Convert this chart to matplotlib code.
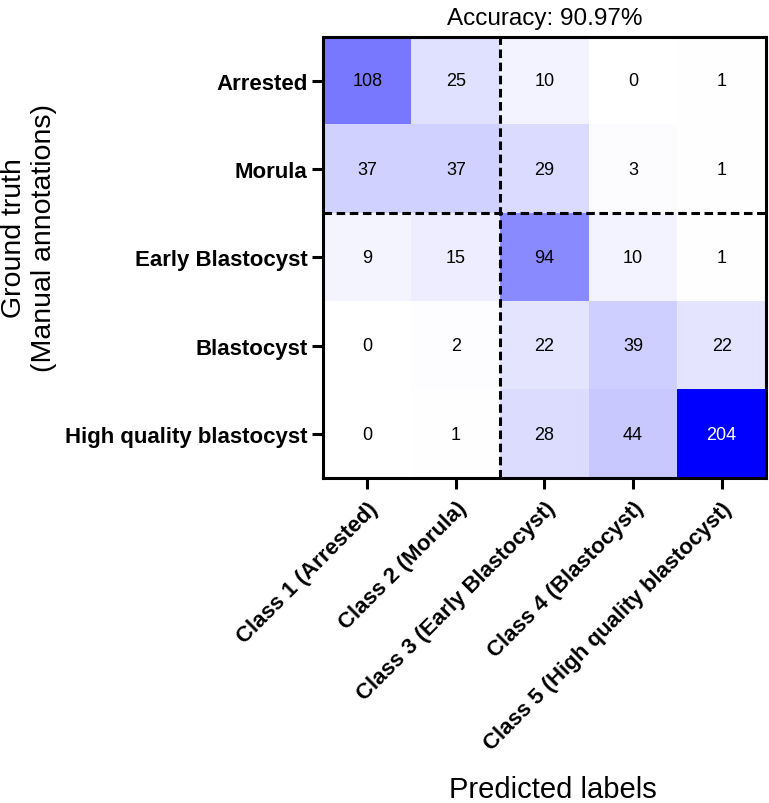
import numpy as np
import matplotlib.pyplot as plt
from matplotlib.colors import LinearSegmentedColormap

plt.rcParams['font.family'] = ['Liberation Sans', 'DejaVu Sans']

true_labels = ['Arrested', 'Morula', 'Early Blastocyst', 'Blastocyst', 'High quality blastocyst']
pred_labels = ['Class 1 (Arrested)', 'Class 2 (Morula)', 'Class 3 (Early Blastocyst)',
               'Class 4 (Blastocyst)', 'Class 5 (High quality blastocyst)']
counts = np.array([
    [108, 25, 10, 0, 1],
    [37, 37, 29, 3, 1],
    [9, 15, 94, 10, 1],
    [0, 2, 22, 39, 22],
    [0, 1, 28, 44, 204],
])
accuracy = 90.97

cmap = LinearSegmentedColormap.from_list('wb', ['#ffffff', '#0000ff'])

fig = plt.figure(figsize=(7.69, 8.04), dpi=100)
ax = fig.add_axes([0.42, 0.404, 0.576, 0.549])
ax.imshow(counts, cmap=cmap, vmin=0, vmax=counts.max(), aspect='auto')

for i in range(counts.shape[0]):
    for j in range(counts.shape[1]):
        v = counts[i, j]
        ax.text(j, i, str(v), ha='center', va='center', fontsize=13,
                color='white' if v > 0.75 * counts.max() else 'black')

ax.axvline(1.5, color='black', lw=2.2, ls=(0, (2.8, 1.5)))
ax.axhline(1.5, color='black', lw=2.2, ls=(0, (2.8, 1.5)))

ax.set_xticks(range(len(pred_labels)))
ax.set_xticklabels(pred_labels, rotation=45, ha='right', rotation_mode='anchor',
                   fontsize=16, fontweight='bold')
ax.set_yticks(range(len(true_labels)))
ax.set_yticklabels(true_labels, fontsize=16, fontweight='bold')
ax.tick_params(length=8, width=2.2)
ax.tick_params(axis='x', pad=6)
ax.tick_params(axis='y', pad=3)
for s in ax.spines.values():
    s.set_linewidth(2.2)

ax.set_title(f'Accuracy: {accuracy:.2f}%', fontsize=17.5, pad=9)
ax.set_xlabel('Predicted labels', fontsize=21)
ax.set_ylabel('Ground truth\n(Manual annotations)', fontsize=20.5)
ax.xaxis.set_label_coords(0.52, -0.673)
ax.yaxis.set_label_coords(-0.60, 0.546)

fig.savefig('out.png', dpi=100)
